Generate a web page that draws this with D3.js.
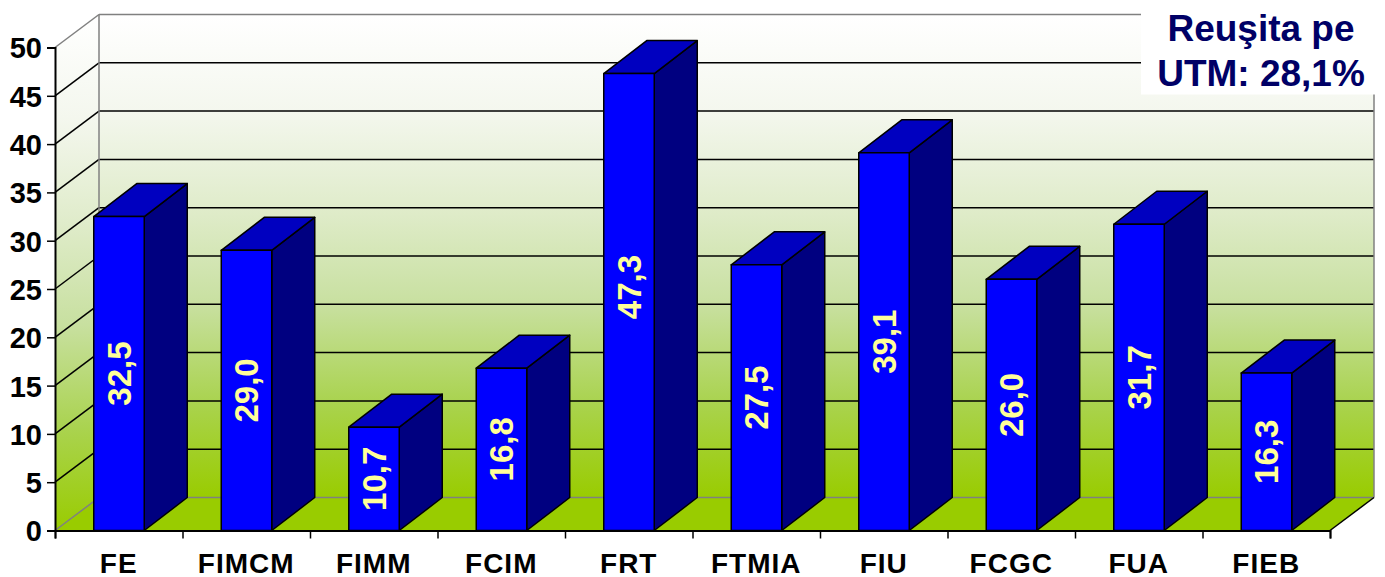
<!DOCTYPE html>
<html>
<head>
<meta charset="utf-8">
<script src="https://cdn.jsdelivr.net/npm/d3@7"></script>
<style>
  html, body { margin: 0; padding: 0; background: #fff; }
  text { font-family: "Liberation Sans", Arial, sans-serif; font-weight: bold; }
  .tick text { fill: #000; }
</style>
</head>
<body>
<div id="vis"></div>
<script>
var categories = ["FE", "FIMCM", "FIMM", "FCIM", "FRT", "FTMIA", "FIU", "FCGC", "FUA", "FIEB"];
var values = [32.5, 29.0, 10.7, 16.8, 47.3, 27.5, 39.1, 26.0, 31.7, 16.3];
var yTicks = [0, 5, 10, 15, 20, 25, 30, 35, 40, 45, 50];
var titleLines = ["Reuşita pe", "UTM: 28,1%"];

var width = 1385, height = 577;
var left = 55, right = 1330, bottom = 530.5, top_ = 47.5;
var depthX = 44, depthY = 33;   // 3d offset of the back wall

var svg = d3.select("#vis").append("svg")
    .attr("width", width)
    .attr("height", height)
    .style("display", "block");

var x = d3.scaleBand()
    .domain(categories)
    .range([left, right])
    .paddingInner(0.6)
    .paddingOuter(0.3);

var y = d3.scaleLinear()
    .domain([0, 50])
    .range([bottom, top_]);

var comma = d3.format(".1f");
function label(d) { return comma(d).replace(".", ","); }
function pts(a) { return a.map(function(p) { return p.join(","); }).join(" "); }

////////// walls //////////

var defs = svg.append("defs");
var grad = defs.append("linearGradient")
    .attr("id", "wall")
    .attr("x1", 0).attr("y1", 0).attr("x2", 0).attr("y2", 1);
[["0%", "#ffffff"], ["20%", "#f4f7ee"], ["40%", "#e0eccb"], ["60%", "#c8e0a0"], ["80%", "#aad350"], ["100%", "#99cc00"]]
  .forEach(function(s) {
    grad.append("stop").attr("offset", s[0]).attr("stop-color", s[1]);
  });

svg.append("polygon")
    .attr("points", pts([[left, y(0)], [left, y(50)], [left + depthX, y(50) - depthY], [left + depthX, y(0) - depthY]]))
    .attr("fill", "url(#wall)");
svg.append("rect")
    .attr("x", left + depthX)
    .attr("y", y(50) - depthY)
    .attr("width", right - left)
    .attr("height", y(0) - y(50))
    .attr("fill", "url(#wall)");
svg.append("polygon")
    .attr("points", pts([[left, y(0)], [left + depthX, y(0) - depthY], [right + depthX, y(0) - depthY], [right, y(0)]]))
    .attr("fill", "#99cc00");

////////// gridlines //////////

var grid = svg.append("g").attr("fill", "none").attr("stroke-width", 1.5);

grid.selectAll(".side")
    .data(yTicks)
    .enter().append("line")
    .attr("class", "side")
    .attr("x1", left)
    .attr("y1", function(d) { return y(d); })
    .attr("x2", left + depthX)
    .attr("y2", function(d) { return y(d) - depthY; })
    .attr("stroke", function(d) { return d == 0 || d == 50 ? "#808080" : "#000"; });

grid.selectAll(".back")
    .data(yTicks)
    .enter().append("line")
    .attr("class", "back")
    .attr("x1", left + depthX)
    .attr("y1", function(d) { return y(d) - depthY; })
    .attr("x2", right + depthX)
    .attr("y2", function(d) { return y(d) - depthY; })
    .attr("stroke", function(d) { return d == 0 || d == 50 ? "#808080" : "#000"; });

grid.append("line")
    .attr("x1", left + depthX).attr("x2", left + depthX)
    .attr("y1", y(50) - depthY).attr("y2", y(0) - depthY)
    .attr("stroke", "#808080");
grid.append("line")
    .attr("x1", right + depthX).attr("x2", right + depthX)
    .attr("y1", y(50) - depthY).attr("y2", y(0) - depthY)
    .attr("stroke", "#808080");
grid.append("line")
    .attr("x1", right).attr("y1", y(0))
    .attr("x2", right + depthX).attr("y2", y(0) - depthY)
    .attr("stroke", "#000");

////////// bars //////////

var bars = svg.selectAll(".bar")
    .data(categories)
    .enter().append("g")
    .attr("class", "bar")
    .attr("stroke", "#000")
    .attr("stroke-width", 1.5)
    .attr("stroke-linejoin", "round");

function barX(i) { return x(categories[i]) + 0.5; }
var barW = x.bandwidth() - 0.5;

bars.append("polygon")
    .attr("fill", "#000080")
    .attr("points", function(d, i) {
      var r = barX(i) + barW, t = y(values[i]);
      return pts([[r, y(0)], [r, t], [r + depthX - 1, t - depthY], [r + depthX - 1, y(0) - depthY]]);
    });
bars.append("polygon")
    .attr("fill", "#0000c0")
    .attr("points", function(d, i) {
      var l = barX(i), r = l + barW, t = y(values[i]);
      return pts([[l, t], [r, t], [r + depthX - 1, t - depthY], [l + depthX - 1, t - depthY]]);
    });
bars.append("rect")
    .attr("fill", "#0000ff")
    .attr("x", function(d, i) { return barX(i); })
    .attr("y", function(d, i) { return y(values[i]); })
    .attr("width", barW)
    .attr("height", function(d, i) { return y(0) - y(values[i]); });

// the tallest bar's label sits a bit higher than centre in the original
svg.selectAll(".value")
    .data(values)
    .enter().append("text")
    .attr("class", "value")
    .attr("transform", function(d, i) {
      var cy = (y(d) + y(0)) / 2 - (d > 45 ? 15 : 0);
      return "translate(" + (barX(i) + barW / 2) + "," + cy + ") rotate(-90)";
    })
    .attr("text-anchor", "middle")
    .attr("dy", "0.36em")
    .attr("font-size", 33)
    .attr("fill", "#ffff99")
    .text(label);

////////// axes //////////

var yAxis = d3.axisLeft(y).tickValues(yTicks).tickSize(8).tickPadding(5);
var gy = svg.append("g").attr("transform", "translate(" + left + ",0)").call(yAxis);
gy.selectAll("text").attr("font-size", 29).attr("font-family", null).attr("dy", "0.36em");

var xEdges = d3.scaleLinear().domain([0, categories.length]).range([left, right]);
var xAxis = d3.axisBottom(xEdges).tickValues(d3.range(categories.length + 1)).tickSize(8).tickFormat("");
var gx = svg.append("g").attr("transform", "translate(0," + bottom + ")").call(xAxis);

[gy, gx].forEach(function(g) {
  g.selectAll("path, line").attr("stroke", "#000").attr("stroke-width", 1.5);
  g.select(".domain").attr("stroke-width", 2);
});

svg.selectAll(".cat")
    .data(categories)
    .enter().append("text")
    .attr("class", "cat")
    .attr("x", function(d, i) { return (xEdges(i) + xEdges(i + 1)) / 2; })
    .attr("y", 573)
    .attr("text-anchor", "middle")
    .attr("font-size", 28)
    .attr("letter-spacing", 1)
    .attr("fill", "#000")
    .text(function(d) { return d; });

////////// title box //////////

svg.append("rect")
    .attr("x", 1141).attr("y", 0)
    .attr("width", width - 1141).attr("height", 94.5)
    .attr("fill", "#fff");

svg.selectAll(".title")
    .data(titleLines)
    .enter().append("text")
    .attr("class", "title")
    .attr("x", 1261)
    .attr("y", function(d, i) { return 41 + i * 45; })
    .attr("text-anchor", "middle")
    .attr("font-size", 37)
    .attr("fill", "#000066")
    .text(function(d) { return d; });
</script>
</body>
</html>
